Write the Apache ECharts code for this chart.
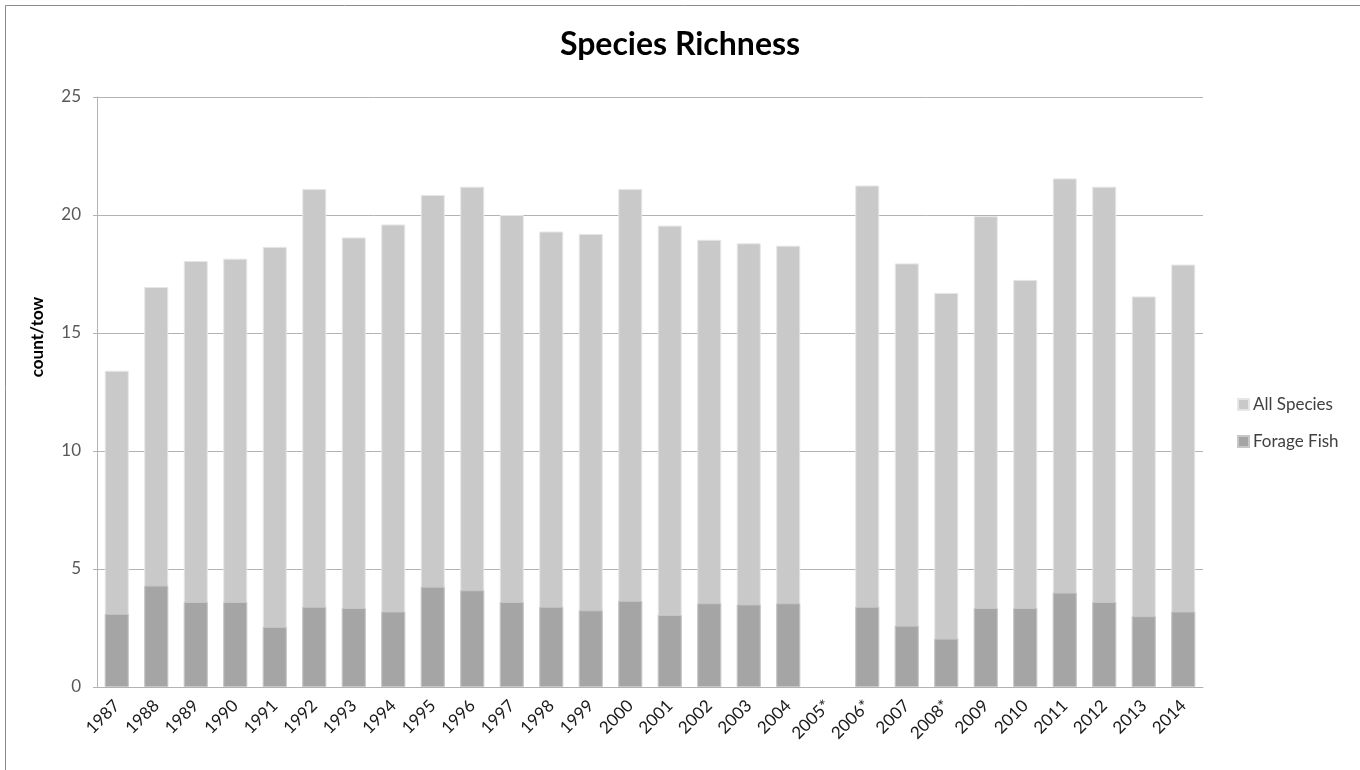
<!DOCTYPE html>
<html>
<head>
<meta charset="utf-8">
<script src="https://cdn.jsdelivr.net/npm/echarts@6/dist/echarts.min.js"></script>
<style>
html,body{margin:0;padding:0;background:#fff;}
#chart{width:1360px;height:770px;}
</style>
</head>
<body>
<div id="chart"></div>
<script>
const years = ['1987','1988','1989','1990','1991','1992','1993','1994','1995','1996','1997','1998','1999','2000','2001','2002','2003','2004','2005*','2006*','2007','2008*','2009','2010','2011','2012','2013','2014'];
const allSpecies = [13.4,16.95,18.05,18.15,18.65,21.1,19.05,19.6,20.85,21.2,20.0,19.3,19.2,21.1,19.55,18.95,18.8,18.7,null,21.25,17.95,16.7,19.95,17.25,21.55,21.2,16.55,17.9];
const forageFish = [3.1,4.3,3.6,3.6,2.55,3.4,3.35,3.2,4.25,4.1,3.6,3.4,3.25,3.65,3.05,3.55,3.5,3.55,null,3.4,2.6,2.05,3.35,3.35,4.0,3.6,3.0,3.2];
const yTicks = [0,5,10,15,20,25];

const chart = echarts.init(document.getElementById('chart'));
const fontFam = 'Lato, "Open Sans", sans-serif';
chart.setOption({
  backgroundColor: '#fff',
  animation: false,
  title: {
    text: 'Species Richness',
    left: 'center',
    top: 24,
    textStyle: {fontFamily: fontFam, fontSize: 32, fontWeight: 'bold', color: '#000'}
  },
  graphic: [
    {type: 'rect', shape: {x: 5.5, y: 5.5, width: 1400, height: 800}, style: {fill: 'none', stroke: '#8c8c8c', lineWidth: 1}, silent: true},
    {type: 'text', x: 38, y: 337, rotation: Math.PI / 2, style: {text: 'count/tow', font: 'bold 17px ' + fontFam, fill: '#000', align: 'center', verticalAlign: 'middle'}}
  ],
  legend: {
    orient: 'vertical',
    left: 1232,
    top: 391,
    itemWidth: 11,
    itemHeight: 11,
    itemGap: 20,
    icon: 'rect',
    data: ['All Species', 'Forage Fish'],
    textStyle: {fontFamily: fontFam, fontSize: 17, color: '#404040', padding: [0,0,0,-1]}
  },
  grid: {left: 97, right: 157, top: 97, bottom: 83, containLabel: false},
  xAxis: {
    type: 'category',
    data: years,
    axisLine: {show: true, lineStyle: {color: '#b3b3b3', width: 1}},
    axisTick: {show: false},
    axisLabel: {rotate: 45, margin: 16, interval: 0, fontFamily: fontFam, fontSize: 17, color: '#1a1a1a'}
  },
  yAxis: {
    type: 'value',
    min: 0, max: 25, interval: 5,
    axisLine: {show: true, lineStyle: {color: '#b3b3b3', width: 1}},
    axisTick: {show: true, length: 4, lineStyle: {color: '#b3b3b3'}},
    splitLine: {show: true, lineStyle: {color: '#b3b3b3', width: 1}},
    axisLabel: {margin: 16, fontFamily: fontFam, fontSize: 17, color: '#595959',
      formatter: v => yTicks.includes(v) ? String(v) : ''}
  },
  series: [
    {name: 'All Species', type: 'bar', data: allSpecies, barWidth: 24, barGap: '-100%',
     itemStyle: {color: '#c9c9c9', borderColor: '#e6e6e6', borderWidth: 1}},
    {name: 'Forage Fish', type: 'bar', data: forageFish, barWidth: 24, barGap: '-100%',
     itemStyle: {color: '#a5a5a5', borderColor: '#c6c6c6', borderWidth: 1}}
  ]
});
</script>
</body>
</html>
